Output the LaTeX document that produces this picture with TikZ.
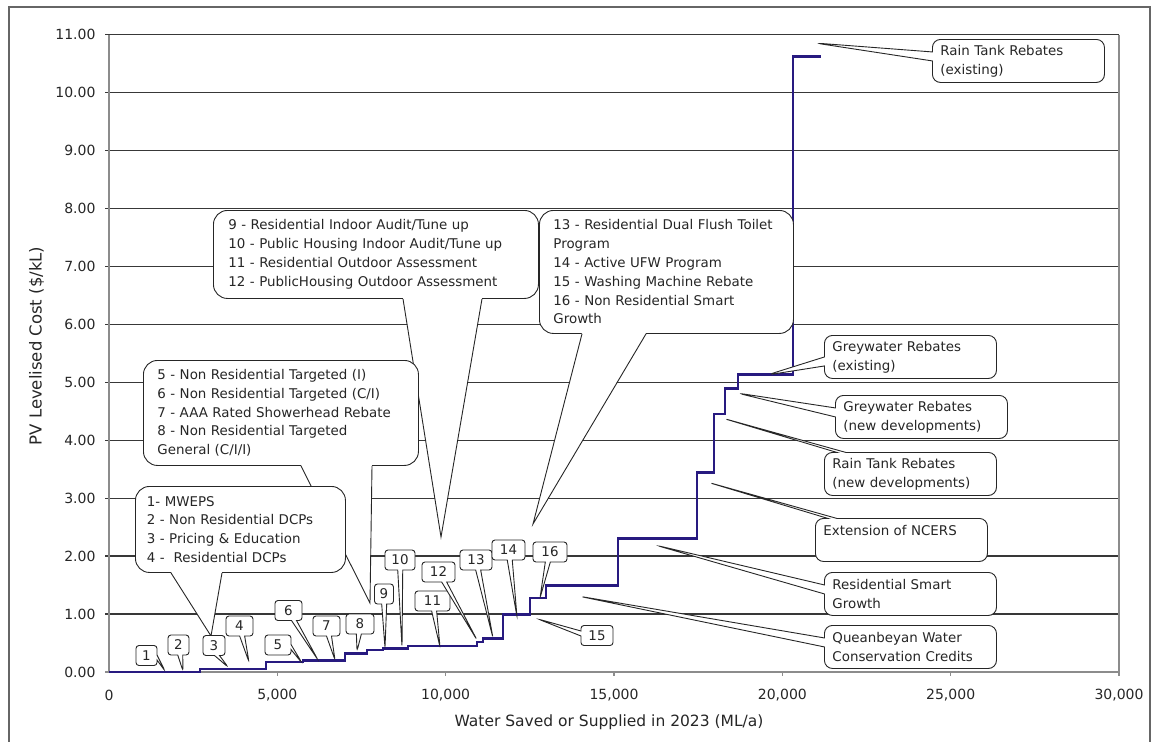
\documentclass[tikz,border=0pt]{standalone}
\usepackage{fontspec}
\setmainfont{DejaVu Sans}
\usetikzlibrary{shapes.callouts}

\definecolor{stepblue}{RGB}{40,26,128}
\newcommand{\calfont}{\fontsize{13.4}{18.8}\selectfont}
\newcommand{\tickfont}{\fontsize{14}{16}\selectfont}

\begin{document}
\begin{tikzpicture}[x=1pt,y=-1pt,
	every node/.style={text=black!85},
	grid/.style={black!78,line width=1.3pt},
	axis/.style={black!45,line width=1.4pt},
	wedge/.style={draw=black!85,line width=0.9pt},
	callbox/.style={rectangle callout,draw=black!85,fill=white,line width=0.9pt,font=\calfont},
	bigbox/.style={draw=black!85,fill=white,line width=0.9pt,font=\calfont,rounded corners=14pt,align=left,anchor=north west,inner ysep=2pt},
	numcall/.style={callbox,rounded corners=3pt,callout pointer width=5pt,inner xsep=5pt,inner ysep=0pt,minimum height=20pt},
	sidecall/.style={callbox,rounded corners=8pt,callout pointer width=9pt,align=left,anchor=north west,text width=156pt,inner xsep=8pt,minimum height=43pt}]

	\useasboundingbox (0,0) rectangle (1152,742);
	\draw[black!60,line width=1.2pt] (9,7) rectangle (1150,760);

	\begin{scope}[shift={(109,672)},x=33.667pt,y=57.95pt]
		\foreach \v in {1,...,11}
			\draw[grid] ([xshift=-4pt]0,\v) -- (30,\v);
		\draw[axis] (0,0) -- (0,11);
		\draw[axis] (30,0) -- (30,11);
		\draw[axis] ([xshift=-4pt]0,0) -- (30,0);
		\foreach \k in {5,10,...,30}
			\draw[axis] (\k,0) -- ([yshift=-4pt]\k,0);
		\foreach \v in {0,...,11}
			\node[anchor=east,font=\tickfont] (y\v) at ([xshift=-10pt]0,\v) {\v.00};
		\foreach \k/\t in {0/0,5/{5,000},10/{10,000},15/{15,000},20/{20,000},25/{25,000},30/{30,000}}
			\node[font=\tickfont] (x\k) at ([yshift=-23pt]\k,0) {\t};
		\draw[stepblue,line width=2.6pt] (0,0)
			foreach \x/\y in {2.70/0.05,4.66/0.17,5.76/0.20,7.01/0.32,7.66/0.38,8.14/0.41,8.88/0.45,10.93/0.52,11.11/0.58,11.70/0.99,12.50/1.28,12.98/1.49,15.12/2.30,17.47/3.44,17.97/4.45,18.30/4.89,18.68/5.13,20.32/10.62} {-| (\x,\y)}
			-- (21.15,10.62);
	\end{scope}

	\node[font=\fontsize{15.5}{18}\selectfont] (xlab) at (609,722) {Water Saved or Supplied in 2023 (ML/a)};
	\node[font=\fontsize{16.5}{19}\selectfont,rotate=90] (ylab) at (36.5,346) {PV Levelised Cost (\$/kL)};

	\coordinate (tA) at (211,636);
	\coordinate (tB) at (370,603);
	\coordinate (tC) at (441,537);
	\coordinate (tD) at (533,524);

	\node[bigbox,text width=295pt,inner xsep=15pt,minimum height=88pt] (c3) at (213,210)
		{9 - Residential Indoor Audit/Tune up\\10 - Public Housing Indoor Audit/Tune up\\11 - Residential Outdoor Assessment\\12 - PublicHousing Outdoor Assessment};
	\fill[white] ([xshift=190pt,yshift=1pt]c3.south west) -- (tC) -- ([xshift=269pt,yshift=1pt]c3.south west) -- cycle;
	\draw[wedge] ([xshift=190pt]c3.south west) -- (tC) -- ([xshift=269pt]c3.south west);

	\node[bigbox,text width=226pt,inner xsep=14pt,minimum height=123pt] (c4) at (539,210)
		{13 - Residential Dual Flush Toilet\\Program\\14 - Active UFW Program\\15 - Washing Machine Rebate\\16 - Non Residential Smart\\Growth};
	\fill[white] ([xshift=43pt,yshift=1pt]c4.south west) -- (tD) -- ([xshift=107pt,yshift=1pt]c4.south west) -- cycle;
	\draw[wedge] ([xshift=43pt]c4.south west) -- (tD) -- ([xshift=107pt]c4.south west);

	\node[bigbox,text width=247pt,inner xsep=14pt,minimum height=105pt] (c2) at (143,360)
		{5 - Non Residential Targeted (I)\\6 - Non Residential Targeted (C/I)\\7 - AAA Rated Showerhead Rebate\\8 - Non Residential Targeted\\General (C/I/I)};
	\fill[white] ([xshift=158pt,yshift=1pt]c2.south west) -- (tB) -- ([xshift=229pt,yshift=1pt]c2.south west) -- cycle;
	\draw[wedge] ([xshift=158pt]c2.south west) -- (tB) -- ([xshift=229pt]c2.south west);

	\node[bigbox,text width=187pt,inner xsep=11.5pt,minimum height=86pt] (c1) at (135,486)
		{1- MWEPS\\2 - Non Residential DCPs\\3 - Pricing \& Education\\4 -\ \ Residential DCPs};
	\fill[white] ([xshift=36pt,yshift=1pt]c1.south west) -- (tA) -- ([xshift=87pt,yshift=1pt]c1.south west) -- cycle;
	\draw[wedge] ([xshift=36pt]c1.south west) -- (tA) -- ([xshift=87pt]c1.south west);

	\foreach \n/\cx/\cy/\w/\tx/\ty in {1/146.5/655.5/21/165/671,2/178.5/645/21/183/671,3/214/645.5/22/228/667,
		4/239.5/626/27/249/662,5/278/645/26/302/663,6/288.5/610.5/27/318/660,7/326.5/626/27/335/660,
		8/360/624/28/357/651,9/384/594/19/385/648,10/400/560/30/402/647,11/432.5/601/35/440/647,
		12/438.5/572/33/477/640,13/476/560/32/493/638,14/508.5/550/33/517/617,15/597/635.5/32/538/619,
		16/550/552/34/540/598}{
		\coordinate (p\n) at (\tx,\ty);
		\node[numcall,minimum width=\w*1pt,callout absolute pointer={(p\n)}] (n\n) at (\cx,\cy) {\n};
	}

	\coordinate (tRTx) at (815,43);
	\coordinate (tGWx) at (767,375);
	\coordinate (tGWn) at (737,393);
	\coordinate (tRTn) at (722,418);
	\coordinate (tNC) at (707,482);
	\coordinate (tRS) at (655,545);
	\coordinate (tQW) at (578,596);

	\node[sidecall,callout absolute pointer={(tRTx)}] (rtx) at (932,39) {Rain Tank Rebates\\(existing)};
	\node[sidecall,callout absolute pointer={(tGWx)}] (gwx) at (824,335) {Greywater Rebates\\(existing)};
	\node[sidecall,callout absolute pointer={(tGWn)}] (gwn) at (835,395) {Greywater Rebates\\(new developments)};
	\node[sidecall,callout absolute pointer={(tRTn)}] (rtn) at (824,452) {Rain Tank Rebates\\(new developments)};
	\node[sidecall,callout absolute pointer={(tNC)}] (ncers) at (815,518) {Extension of NCERS\\\mbox{}};
	\node[sidecall,callout absolute pointer={(tRS)}] (rsg) at (824,572) {Residential Smart\\Growth};
	\node[sidecall,callout absolute pointer={(tQW)}] (qwc) at (824,625) {Queanbeyan Water\\Conservation Credits};
\end{tikzpicture}
\end{document}
